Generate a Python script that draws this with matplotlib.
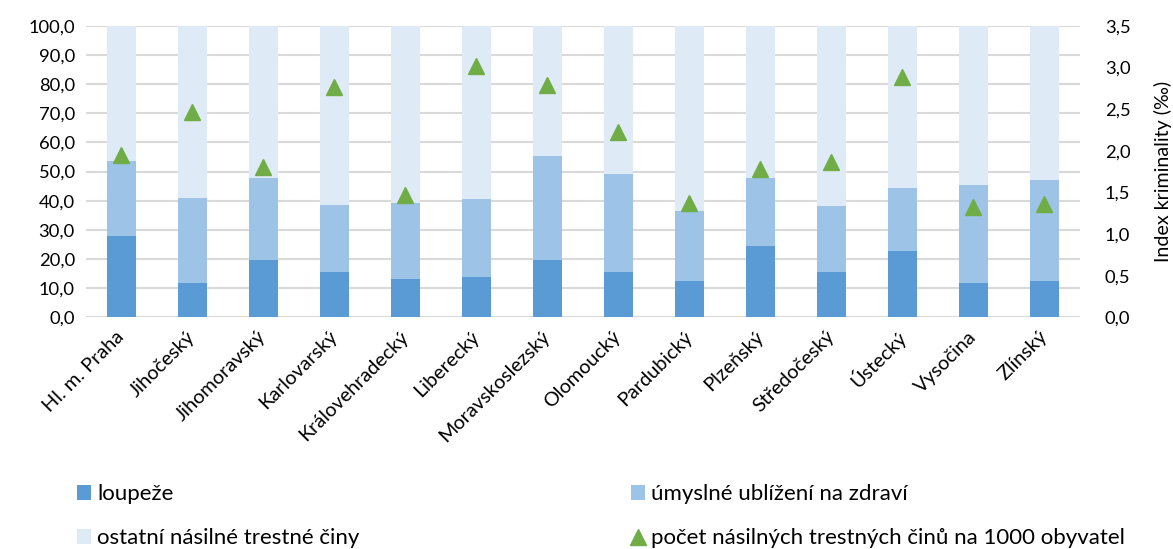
import matplotlib
matplotlib.use("Agg")
import matplotlib.pyplot as plt
from matplotlib.patches import Patch
from matplotlib.lines import Line2D
import numpy as np

plt.rcParams['font.family'] = ['Lato', 'DejaVu Sans']

regions = ["Hl. m. Praha", "Jihočeský", "Jihomoravský", "Karlovarský", "Královehradecký",
           "Liberecký", "Moravskoslezský", "Olomoucký", "Pardubický", "Plzeňský",
           "Středočeský", "Ústecký", "Vysočina", "Zlínský"]
loupeze = [28.0, 11.8, 19.7, 15.6, 13.2, 13.9, 19.6, 15.6, 12.4, 24.6, 15.6, 22.8, 11.8, 12.4]
ublizeni = [25.5, 29.1, 28.1, 23.0, 26.1, 26.7, 35.6, 33.6, 24.2, 23.3, 22.6, 21.6, 33.7, 34.7]
ostatni = [46.5, 59.1, 52.2, 61.4, 60.7, 59.4, 44.8, 50.8, 63.4, 52.1, 61.8, 55.6, 54.5, 52.9]
index = [1.95, 2.46, 1.81, 2.76, 1.47, 3.02, 2.79, 2.23, 1.37, 1.78, 1.86, 2.88, 1.33, 1.36]

c_loup = "#5B9BD5"
c_ubl = "#9DC3E6"
c_ost = "#DEEBF7"
c_tri = "#70AD47"

fs_tick = 13.2
fig = plt.figure(figsize=(11.73, 5.49), dpi=100)
ax = fig.add_axes([0.0733, 0.422, 0.8474, 0.531])
x = np.arange(len(regions))
w = 0.395
b1 = np.array(loupeze)
b2 = b1 + np.array(ublizeni)
ax.bar(x, loupeze, w, color=c_loup, zorder=2)
ax.bar(x, ublizeni, w, bottom=b1, color=c_ubl, zorder=2)
ax.bar(x, ostatni, w, bottom=b2, color=c_ost, zorder=2)

ax.set_xlim(-0.5, len(regions) - 0.5)
ax.set_ylim(0, 100)
ax.set_yticks(np.arange(0, 101, 10))
ax.set_yticklabels([f"{v:.1f}".replace('.', ',') for v in np.arange(0, 101, 10)], fontsize=fs_tick)
ax.yaxis.grid(True, color="#d9d9d9", linewidth=1.5, zorder=0)
ax.set_axisbelow(True)
for s in ax.spines.values():
    s.set_visible(False)
ax.tick_params(axis='both', length=0)
ax.tick_params(axis='y', pad=8)
ax.set_xticks(x)
ax.set_xticklabels(regions, rotation=45, ha='right', va='center', rotation_mode='anchor', fontsize=14.3)
ax.tick_params(axis='x', pad=12)

ax2 = ax.twinx()
ax2.set_ylim(0, 3.5)
ax2.plot(x, index, linestyle='none', marker='^', markersize=11, color=c_tri, zorder=3)
ax2.set_yticks(np.arange(0, 3.51, 0.5))
ax2.set_yticklabels([f"{v:.1f}".replace('.', ',') for v in np.arange(0, 3.51, 0.5)], fontsize=fs_tick)
ax2.tick_params(axis='y', length=0, pad=18)
for s in ax2.spines.values():
    s.set_visible(False)
ax2.set_ylabel("Index kriminality (‰)", fontsize=14.1, labelpad=17)

h1 = [Patch(facecolor=c_loup, edgecolor='none'), Patch(facecolor=c_ost, edgecolor='none')]
l1 = ["loupeže", "ostatní násilné trestné činy"]
h2 = [Patch(facecolor=c_ubl, edgecolor='none'),
      Line2D([], [], linestyle='none', marker='^', markersize=11.5, color=c_tri)]
l2 = ["úmyslné ublížení na zdraví", "počet násilných trestných činů na 1000 obyvatel"]
kw = dict(frameon=False, fontsize=16, handlelength=0.63, handleheight=0.63,
          handletextpad=0.27, labelspacing=1.08, borderpad=0, borderaxespad=0)
leg1 = fig.legend(h1, l1, loc='upper left', bbox_to_anchor=(0.0656, 0.118), **kw)
leg2 = fig.legend(h2, l2, loc='upper left', bbox_to_anchor=(0.538, 0.118), **kw)

fig.savefig("out.png", dpi=100)
